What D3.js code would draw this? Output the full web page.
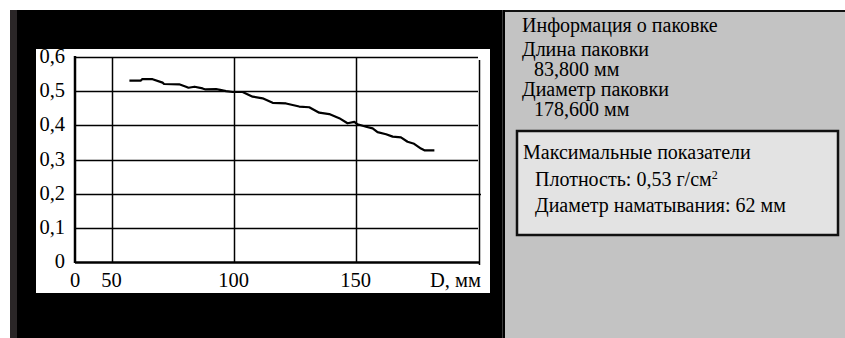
<!DOCTYPE html>
<html>
<head>
<meta charset="utf-8">
<script src="https://cdn.jsdelivr.net/npm/d3@7"></script>
<style>
	body { margin: 0; background: #fff; }
	svg { display: block; font-family: "Liberation Serif", "Times New Roman", serif; }
</style>
</head>
<body>
<div id="chart"></div>
<script>
// диаметр намотки, мм
var diameters = [57.3, 62, 62.5, 66.8, 70.9, 71.5, 77.7, 80.5, 81.5, 84, 87.3, 88.5, 92.8, 94.5, 96.9, 99.6, 103.7, 107.8, 111.9, 116, 121.5, 126.9, 131, 135.1, 139.2, 143.3, 146.7, 149.5, 150.8, 154.3, 157, 159, 162.5, 165.2, 168.6, 171.3, 174, 176.8, 178.2, 182.3];
// плотность, г/см3
var densities = [0.531, 0.531, 0.535, 0.535, 0.525, 0.521, 0.52, 0.513, 0.51, 0.513, 0.508, 0.505, 0.506, 0.504, 0.50, 0.4976, 0.4976, 0.484, 0.479, 0.466, 0.464, 0.455, 0.453, 0.437, 0.433, 0.421, 0.406, 0.41, 0.403, 0.396, 0.391, 0.38, 0.374, 0.367, 0.365, 0.352, 0.346, 0.332, 0.327, 0.327];
var xTicks = [50, 100, 150];
var yTicks = [0.1, 0.2, 0.3, 0.4, 0.5, 0.6];
var xDomain = [35, 201];
var yDomain = [0, 0.6];

var infoTitle = 'Информация о паковке';
var infoLines = ['Длина паковки', '83,800 мм', 'Диаметр паковки', '178,600 мм'];
var maxTitle = 'Максимальные показатели';
var maxLines = ['Плотность: 0,53 г/см', 'Диаметр наматывания: 62 мм'];

var width = 845, height = 338;
var plot = { left: 75, right: 480, top: 57, bottom: 262 };
var font = 20.5;

var svg = d3.select('#chart').append('svg')
	.attr('width', width)
	.attr('height', height);

// фон
svg.append('rect').attr('x', 0).attr('y', 0).attr('width', width).attr('height', height).attr('fill', '#fff');
svg.append('rect').attr('x', 10).attr('y', 10).attr('width', 7).attr('height', height - 10).attr('fill', '#2a2627');
svg.append('rect').attr('x', 17).attr('y', 10).attr('width', 488).attr('height', height - 10).attr('fill', '#000');
svg.append('rect').attr('x', 502).attr('y', 10).attr('width', 1).attr('height', height - 10).attr('fill', '#3a3a3a');
svg.append('rect').attr('x', 505).attr('y', 10).attr('width', width - 505).attr('height', height - 10).attr('fill', '#c3c3c3');
svg.append('rect').attr('x', 505).attr('y', 10).attr('width', width - 505).attr('height', 2).attr('fill', '#111');

// белое поле графика
svg.append('rect').attr('x', 36).attr('y', 49).attr('width', 454).attr('height', 244).attr('fill', '#fff');

var x = d3.scaleLinear().domain(xDomain).range([plot.left, plot.right]);
var y = d3.scaleLinear().domain(yDomain).range([plot.bottom, plot.top]);

// сетка
svg.selectAll('.hgrid')
	.data(yTicks)
	.enter()
	.append('line')
	.attr('class', 'hgrid')
	.attr('x1', plot.left)
	.attr('x2', function (d) { return d === 0.2 ? plot.right + 1 : plot.right - 2; })
	.attr('y1', function (d) { return Math.round(y(d)) + 0.5; })
	.attr('y2', function (d) { return Math.round(y(d)) + 0.5; })
	.attr('stroke', '#000')
	.attr('stroke-width', 1.5);

svg.selectAll('.vgrid')
	.data(xTicks)
	.enter()
	.append('line')
	.attr('class', 'vgrid')
	.attr('x1', function (d) { return Math.round(x(d)) + 0.5; })
	.attr('x2', function (d) { return Math.round(x(d)) + 0.5; })
	.attr('y1', plot.top)
	.attr('y2', plot.bottom)
	.attr('stroke', '#000')
	.attr('stroke-width', 1.5);

// правая граница
svg.append('line')
	.attr('x1', plot.right - 0.5).attr('x2', plot.right - 0.5)
	.attr('y1', plot.top + 3).attr('y2', plot.bottom + 3)
	.attr('stroke', '#000').attr('stroke-width', 1.5);

// оси
svg.append('line')
	.attr('x1', plot.left).attr('x2', plot.left)
	.attr('y1', plot.top - 1).attr('y2', plot.bottom + 1)
	.attr('stroke', '#000').attr('stroke-width', 2.5);
svg.append('line')
	.attr('x1', plot.left).attr('x2', plot.right)
	.attr('y1', plot.bottom + 0.5).attr('y2', plot.bottom + 0.5)
	.attr('stroke', '#000').attr('stroke-width', 2.5);

// подписи оси Y
svg.selectAll('.ylab')
	.data([0].concat(yTicks))
	.enter()
	.append('text')
	.attr('class', 'ylab')
	.attr('x', 65)
	.attr('y', function (d) { return y(d) + 6; })
	.attr('text-anchor', 'end')
	.attr('font-size', font)
	.text(function (d) { return d === 0 ? '0' : d3.format('.1f')(d).replace('.', ','); });

// подписи оси X
svg.append('text')
	.attr('x', plot.left).attr('y', 287)
	.attr('text-anchor', 'middle')
	.attr('font-size', font)
	.text('0');
svg.selectAll('.xlab')
	.data(xTicks)
	.enter()
	.append('text')
	.attr('class', 'xlab')
	.attr('x', function (d) { return x(d); })
	.attr('y', 287)
	.attr('text-anchor', 'middle')
	.attr('font-size', font)
	.text(function (d) { return d; });
svg.append('text')
	.attr('x', 481).attr('y', 287)
	.attr('text-anchor', 'end')
	.attr('font-size', font)
	.text('D, мм');

// кривая плотности
var line = d3.line()
	.x(function (d) { return x(d[0]); })
	.y(function (d) { return y(d[1]); });
svg.append('path')
	.datum(d3.zip(diameters, densities))
	.attr('d', line)
	.attr('fill', 'none')
	.attr('stroke', '#000')
	.attr('stroke-width', 2.2)
	.attr('stroke-linejoin', 'round');

// рамка максимальных показателей
svg.append('rect')
	.attr('x', 517).attr('y', 131)
	.attr('width', 321).attr('height', 104)
	.attr('fill', '#e3e3e3')
	.attr('stroke', '#111')
	.attr('stroke-width', 2.5);

// информация
var info = svg.append('g').attr('font-size', 20);
info.append('text').attr('x', 522).attr('y', 32).text(infoTitle);
info.selectAll('.info')
	.data(infoLines)
	.enter()
	.append('text')
	.attr('class', 'info')
	.attr('x', function (d, i) { return i % 2 ? 534 : 522; })
	.attr('y', function (d, i) { return 56 + i * 20; })
	.text(function (d) { return d; });

info.append('text').attr('x', 523).attr('y', 159).text(maxTitle);
var ml = info.selectAll('.maxl')
	.data(maxLines)
	.enter()
	.append('text')
	.attr('class', 'maxl')
	.attr('x', 535)
	.attr('y', function (d, i) { return 186 + i * 26; })
	.text(function (d) { return d; });
ml.filter(function (d, i) { return i === 0; })
	.append('tspan')
	.attr('font-size', 12)
	.attr('dy', -7)
	.text('2');
</script>
</body>
</html>
